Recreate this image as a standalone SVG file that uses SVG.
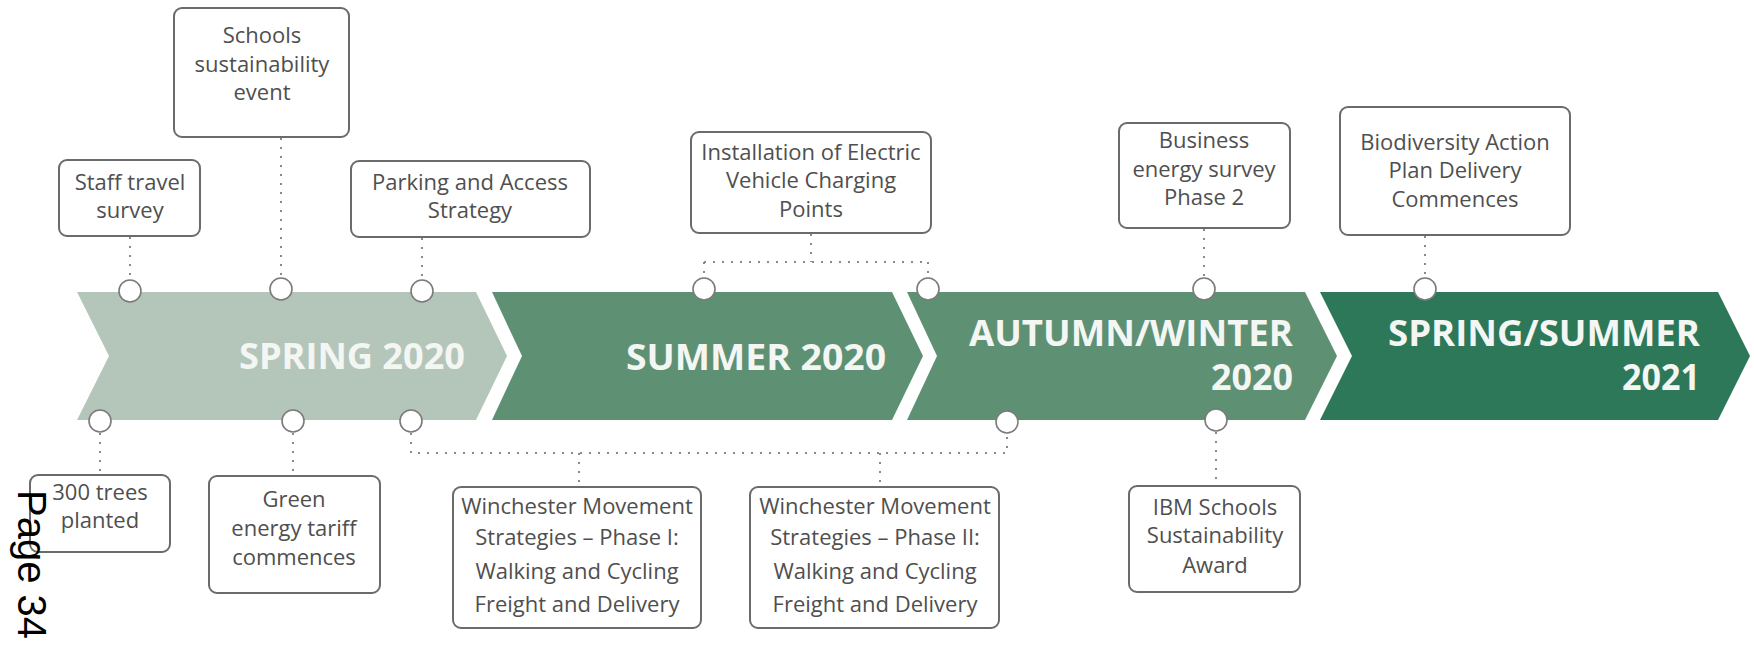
<svg xmlns="http://www.w3.org/2000/svg" width="1754" height="650" viewBox="0 0 1754 650">
<style>
.box{fill:#ffffff;stroke:#6b6b6b;stroke-width:2}
.t{font-family:"Open Sans","Liberation Sans",sans-serif;font-size:22px;fill:#4f4f4f;text-anchor:middle}
.band{font-family:"Open Sans","Liberation Sans",sans-serif;font-size:36px;font-weight:700;fill:#f4f6f4;text-anchor:end}
.dot{fill:#ffffff;stroke:#7a7a7a;stroke-width:1.6}
.c{fill:none;stroke:#8a8a8a;stroke-width:2;stroke-dasharray:2 7}
</style>
<rect width="1754" height="650" fill="#ffffff"/>
<g id="bands">
<path d="M77,292 L476,292 L507,356 L476,420 L77,420 L109,356 Z" fill="#b4c6b9"/>
<path d="M492,292 L892,292 L923,356 L892,420 L492,420 L522,356 Z" fill="#5e9173"/>
<path d="M907,292 L1305,292 L1337,356 L1305,420 L907,420 L937,356 Z" fill="#5e9173"/>
<path d="M1320,292 L1718,292 L1750,356 L1718,420 L1320,420 L1352,356 Z" fill="#2d7858"/>
<text class="band" x="465" y="369" textLength="226" lengthAdjust="spacingAndGlyphs">SPRING 2020</text>
<text class="band" x="886" y="370" textLength="260" lengthAdjust="spacingAndGlyphs">SUMMER 2020</text>
<text class="band" x="1293" y="346" textLength="324" lengthAdjust="spacingAndGlyphs">AUTUMN/WINTER</text>
<text class="band" x="1293" y="390" textLength="82" lengthAdjust="spacingAndGlyphs">2020</text>
<text class="band" x="1700" y="346" textLength="312" lengthAdjust="spacingAndGlyphs">SPRING/SUMMER</text>
<text class="band" x="1700" y="390" textLength="78" lengthAdjust="spacingAndGlyphs">2021</text>
</g>
<g id="connectors">
<path class="c" d="M130,237 V279"/>
<path class="c" d="M281,138 V278"/>
<path class="c" d="M422,238 V279"/>
<path class="c" d="M811,234 V262"/>
<path class="c" d="M704,262 H928"/>
<path class="c" d="M704,262 V279"/>
<path class="c" d="M928,262 V279"/>
<path class="c" d="M1204,229 V278"/>
<path class="c" d="M1425,236 V278"/>
<path class="c" d="M100,433 V475"/>
<path class="c" d="M293,433 V476"/>
<path class="c" d="M411,433 V453 H1007 V433"/>
<path class="c" d="M579,453 V487"/>
<path class="c" d="M880,453 V487"/>
<path class="c" d="M1216,432 V486"/>
</g>
<g id="markers">
<circle class="dot" cx="130" cy="291" r="11"/>
<circle class="dot" cx="281" cy="289" r="11"/>
<circle class="dot" cx="422" cy="291" r="11"/>
<circle class="dot" cx="704" cy="289" r="11"/>
<circle class="dot" cx="928" cy="289" r="11"/>
<circle class="dot" cx="1204" cy="289" r="11"/>
<circle class="dot" cx="1425" cy="289" r="11"/>
<circle class="dot" cx="100" cy="421" r="11"/>
<circle class="dot" cx="293" cy="421" r="11"/>
<circle class="dot" cx="411" cy="421" r="11"/>
<circle class="dot" cx="1007" cy="422" r="11"/>
<circle class="dot" cx="1216" cy="420" r="11"/>
</g>
<g id="staff-travel">
<rect class="box" x="59" y="160" width="141" height="76" rx="8"/>
<text class="t" x="130" y="190">Staff travel</text>
<text class="t" x="130" y="218">survey</text>
</g>
<g id="schools-event">
<rect class="box" x="174" y="8" width="175" height="129" rx="8"/>
<text class="t" x="262" y="43">Schools</text>
<text class="t" x="262" y="72">sustainability</text>
<text class="t" x="262" y="100">event</text>
</g>
<g id="parking">
<rect class="box" x="351" y="161" width="239" height="76" rx="8"/>
<text class="t" x="470" y="190">Parking and Access</text>
<text class="t" x="470" y="218">Strategy</text>
</g>
<g id="ev-charging">
<rect class="box" x="691" y="132" width="240" height="101" rx="8"/>
<text class="t" x="811" y="160">Installation of Electric</text>
<text class="t" x="811" y="188">Vehicle Charging</text>
<text class="t" x="811" y="217">Points</text>
</g>
<g id="business-survey">
<rect class="box" x="1119" y="123" width="171" height="105" rx="8"/>
<text class="t" x="1204" y="148">Business</text>
<text class="t" x="1204" y="177">energy survey</text>
<text class="t" x="1204" y="205">Phase 2</text>
</g>
<g id="biodiversity">
<rect class="box" x="1340" y="107" width="230" height="128" rx="8"/>
<text class="t" x="1455" y="150">Biodiversity Action</text>
<text class="t" x="1455" y="178">Plan Delivery</text>
<text class="t" x="1455" y="207">Commences</text>
</g>
<g id="trees">
<rect class="box" x="30" y="475" width="140" height="77" rx="8"/>
<text class="t" x="100" y="500">300 trees</text>
<text class="t" x="100" y="528">planted</text>
</g>
<g id="green-tariff">
<rect class="box" x="209" y="476" width="171" height="117" rx="8"/>
<text class="t" x="294" y="507">Green</text>
<text class="t" x="294" y="536">energy tariff</text>
<text class="t" x="294" y="565">commences</text>
</g>
<g id="wms-phase1">
<rect class="box" x="453" y="487" width="248" height="141" rx="8"/>
<text class="t" x="577" y="514">Winchester Movement</text>
<text class="t" x="577" y="545">Strategies – Phase I:</text>
<text class="t" x="577" y="579">Walking and Cycling</text>
<text class="t" x="577" y="612">Freight and Delivery</text>
</g>
<g id="wms-phase2">
<rect class="box" x="750" y="487" width="249" height="141" rx="8"/>
<text class="t" x="875" y="514">Winchester Movement</text>
<text class="t" x="875" y="545">Strategies – Phase II:</text>
<text class="t" x="875" y="579">Walking and Cycling</text>
<text class="t" x="875" y="612">Freight and Delivery</text>
</g>
<g id="ibm-award">
<rect class="box" x="1129" y="486" width="171" height="106" rx="8"/>
<text class="t" x="1215" y="515">IBM Schools</text>
<text class="t" x="1215" y="543">Sustainability</text>
<text class="t" x="1215" y="573">Award</text>
</g>
<text transform="translate(18,490) rotate(90)" font-family="Liberation Sans, Arial, sans-serif" font-size="40" fill="#000000">Page 34</text>
</svg>
